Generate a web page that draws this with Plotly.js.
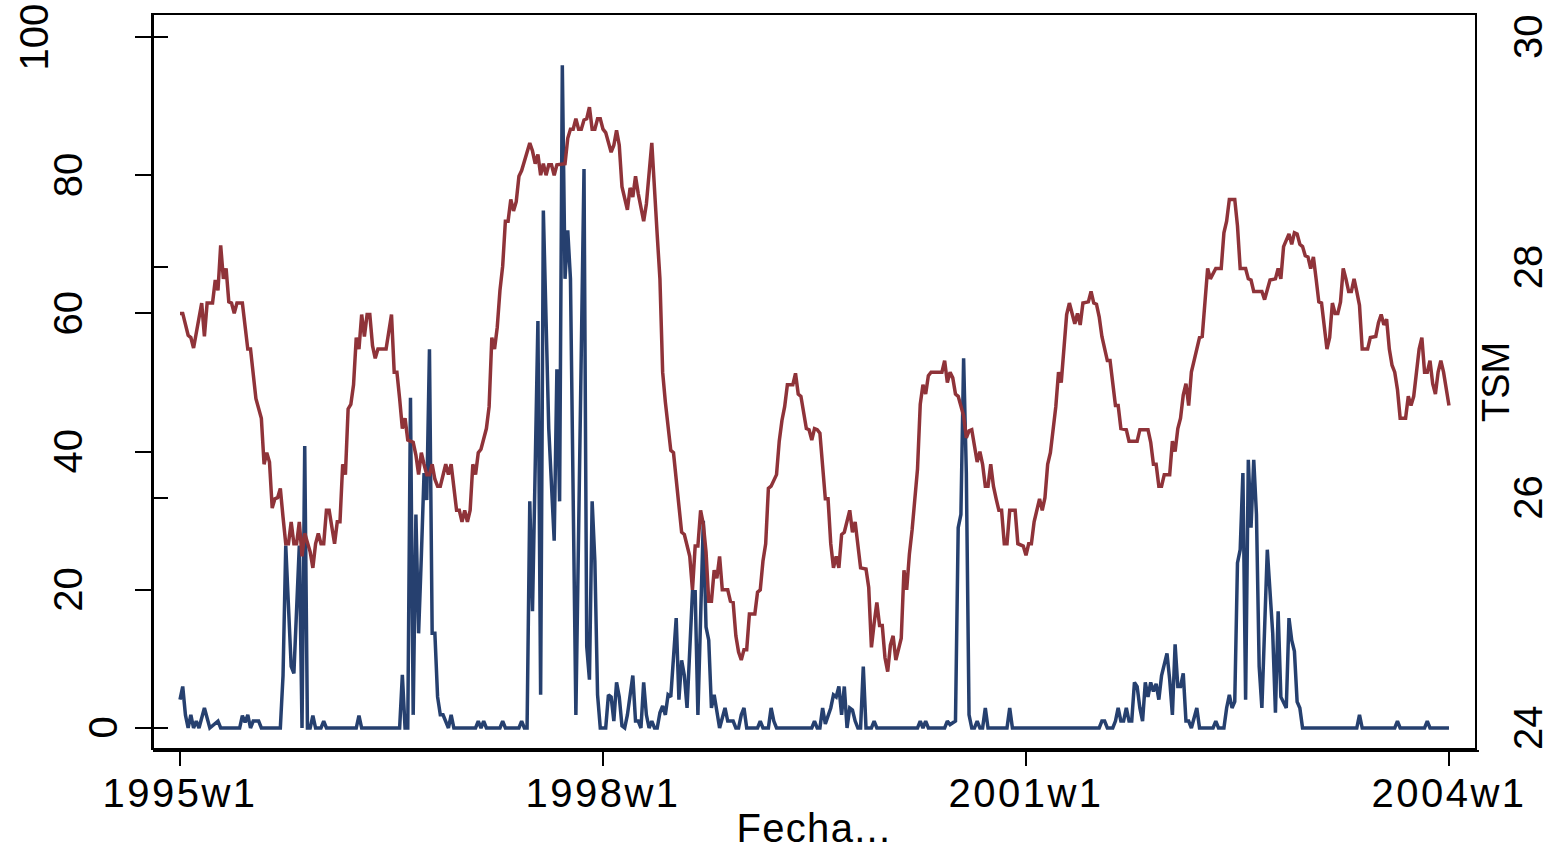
<!DOCTYPE html>
<html>
<head>
<meta charset="utf-8">
<script src="https://cdn.plot.ly/plotly-3.0.1.min.js"></script>
<style>
html,body{margin:0;padding:0;background:#fff;}
#chart{width:1549px;height:850px;}
</style>
</head>
<body>
<div id="chart"></div>
<script>
// Week index: 0 = 1995w1, 156 = 1998w1, 312 = 2001w1, 468 = 2004w1
const xTickVals = [0, 156, 312, 468];
const xTickText = ['1995w1', '1998w1', '2001w1', '2004w1'];
const yTicks = [0, 20, 40, 60, 80, 100];
const y2Ticks = [24, 26, 28, 30];

// TSM series (right axis)
const semanasTSM = [0,1,3,4,5,6,8,9,10,12,13,14,15,16,17,18,19,20,21,23,24,25,26,27,28,30,31,32,33,34,35,36,37,38,39,40,41,42,43,44,45,46,48,49,50,51,52,53,54,55,56,57,58,59,60,61,62,63,64,65,66,67,68,69,70,71,72,73,76,78,79,80,81,82,83,84,86,87,88,89,90,91,92,93,94,95,96,98,99,100,102,103,104,105,106,107,108,109,110,111,113,114,115,116,117,118,119,120,121,122,123,124,125,126,129,130,131,132,133,134,135,136,137,138,139,141,142,143,144,145,146,147,148,149,150,151,152,153,154,155,156,157,159,160,161,162,163,165,166,167,168,169,171,172,174,176,177,178,179,181,182,183,185,186,188,189,190,191,192,193,194,195,196,197,198,199,200,202,203,204,205,206,207,208,209,210,212,213,214,215,216,217,218,220,221,222,223,224,226,227,228,229,231,232,233,234,235,236,237,238,239,240,241,242,243,244,245,247,248,249,251,253,254,255,256,257,258,259,260,261,262,263,264,266,267,268,269,270,272,273,274,275,276,277,281,282,283,284,285,286,287,289,290,291,292,294,295,296,297,298,299,300,301,302,303,304,305,306,308,309,311,312,313,314,315,316,317,318,319,320,321,323,324,325,326,327,328,330,331,332,333,335,336,337,338,339,340,341,342,343,345,346,347,349,350,353,354,357,358,359,360,361,362,363,365,366,367,368,369,370,371,372,373,374,375,376,377,378,379,380,382,384,385,386,387,389,390,391,393,394,395,396,399,400,402,404,405,406,407,409,410,411,412,413,414,415,416,417,418,419,420,421,423,424,425,426,427,428,429,430,431,432,433,434,435,436,438,439,441,442,443,444,445,446,447,448,449,450,452,453,454,455,456,457,458,459,460,461,462,463,464,465,466,467,468];
const tsm = [27.60,27.60,27.41,27.39,27.30,27.44,27.69,27.40,27.69,27.69,27.89,27.80,28.19,27.90,27.99,27.70,27.69,27.60,27.69,27.69,27.48,27.29,27.29,27.06,26.86,26.69,26.29,26.39,26.31,25.91,25.99,26.00,26.08,25.83,25.60,25.60,25.79,25.60,25.60,25.79,25.49,25.69,25.53,25.39,25.60,25.69,25.60,25.60,25.89,25.89,25.75,25.60,25.79,25.79,26.29,26.20,26.77,26.81,26.98,27.39,27.29,27.59,27.40,27.59,27.59,27.32,27.21,27.29,27.29,27.59,27.09,27.09,26.86,26.60,26.69,26.50,26.48,26.37,26.20,26.39,26.29,26.20,26.20,26.29,26.16,26.10,26.10,26.29,26.20,26.29,25.89,25.89,25.79,25.89,25.79,25.89,26.29,26.20,26.39,26.42,26.60,26.79,27.39,27.29,27.48,27.80,28.01,28.40,28.40,28.59,28.49,28.57,28.79,28.84,29.08,29.01,28.90,28.98,28.80,28.90,28.80,28.89,28.89,28.80,28.89,28.90,28.90,29.12,29.20,29.20,29.29,29.20,29.20,29.28,29.29,29.39,29.20,29.20,29.29,29.29,29.20,29.17,29.00,29.06,29.19,29.06,28.70,28.50,28.69,28.61,28.79,28.64,28.40,28.55,29.08,28.28,27.90,27.09,26.83,26.41,26.39,26.16,25.70,25.68,25.49,25.20,25.58,25.58,25.89,25.77,25.53,25.10,25.10,25.37,25.30,25.49,25.20,25.20,25.10,25.09,24.80,24.66,24.59,24.68,24.68,24.99,24.99,25.18,25.20,25.45,25.60,26.08,26.10,26.20,26.49,26.67,26.79,26.98,26.98,27.08,26.90,26.88,26.60,26.59,26.50,26.60,26.59,26.56,26.30,25.99,25.99,25.60,25.39,25.49,25.39,25.68,25.70,25.89,25.70,25.79,25.39,25.38,25.22,24.70,24.91,25.09,24.89,24.89,24.61,24.49,24.72,24.80,24.59,24.78,25.37,25.20,25.51,25.72,26.25,26.81,26.98,26.90,27.06,27.09,27.09,27.19,27.00,27.09,27.04,26.90,26.88,26.71,26.52,26.58,26.59,26.31,26.40,26.29,26.10,26.10,26.29,26.10,25.99,25.89,25.89,25.60,25.60,25.89,25.89,25.60,25.58,25.50,25.60,25.60,25.79,25.89,25.99,25.89,26.00,26.29,26.39,26.79,27.09,27.00,27.29,27.59,27.69,27.51,27.60,27.50,27.69,27.70,27.79,27.69,27.68,27.57,27.40,27.29,27.19,27.19,26.80,26.80,26.60,26.59,26.49,26.49,26.59,26.59,26.48,26.29,26.29,26.10,26.10,26.20,26.20,26.49,26.40,26.60,26.69,26.89,26.99,26.80,27.09,27.19,27.29,27.39,27.40,27.69,27.99,27.90,27.99,27.99,28.30,28.40,28.59,28.59,28.36,27.99,27.99,27.90,27.89,27.79,27.79,27.72,27.89,27.90,27.99,27.90,28.18,28.29,28.20,28.30,28.29,28.20,28.18,28.10,28.09,27.99,28.09,27.90,27.70,27.69,27.29,27.39,27.69,27.60,27.60,27.70,27.99,27.90,27.79,27.79,27.90,27.79,27.67,27.29,27.29,27.39,27.40,27.52,27.59,27.50,27.55,27.29,27.15,27.09,26.94,26.69,26.69,26.88,26.80,26.88,27.09,27.29,27.39,27.09,27.09,27.19,26.99,26.90,27.09,27.19,27.09,26.94,26.80];

// Count series (left axis)
const semanasCasos = [0,1,2,3,4,5,6,7,9,11,14,15,22,23,24,25,26,27,29,30,37,38,39,40,41,42,44,45,46,47,48,49,50,52,53,54,65,66,67,81,82,83,84,85,86,87,88,89,90,91,92,93,94,95,96,97,98,99,100,101,109,110,111,112,113,118,119,120,125,126,127,128,129,130,132,133,134,135,136,138,139,140,141,142,143,144,146,149,150,151,152,153,154,155,157,158,159,160,161,162,163,164,165,167,168,169,170,171,172,173,174,175,176,177,178,179,180,181,183,184,185,186,187,189,190,191,193,194,195,196,197,199,201,202,204,205,206,207,208,209,213,214,215,217,218,219,220,233,234,235,236,237,238,240,241,242,243,244,245,246,247,248,249,250,251,252,253,255,256,257,272,273,274,275,276,282,283,284,286,287,288,289,290,291,292,293,294,295,296,297,298,305,306,307,339,340,341,342,344,345,346,347,348,349,350,351,352,353,354,355,356,357,358,359,360,361,362,364,365,366,367,368,369,370,371,372,373,375,376,381,382,383,385,386,387,388,389,390,391,392,393,394,395,396,397,398,399,401,403,404,405,406,408,409,410,411,412,413,414,434,435,436,448,449,450,459,460,461,468];
const casos = [4.1,6.0,1.9,0,1.9,0,1.0,0,2.9,0,1.0,0,0,1.8,0.8,1.9,0,1.0,1.0,0,0,7.6,26.4,17.2,8.9,7.9,26.4,0,40.8,0,0,1.8,0,0,1.0,0,0,1.8,0,0,7.7,0,0,47.8,1.9,30.9,13.7,24.8,36.9,33.0,54.8,13.7,13.7,4.5,1.9,1.9,1.0,0,1.9,0,0,1.0,0,1.0,0,0,1.0,0,0,1.0,0,0,32.8,16.9,58.9,4.8,74.9,60.5,43.3,27.1,51.9,32.8,95.9,65.0,72.0,65.0,1.9,80.9,11.8,7.0,32.8,24.2,4.8,0,0,4.8,4.5,1.0,6.6,4.5,0.3,0,1.9,7.6,1.0,1.0,0,6.6,1.9,0,1.0,0,0,2.2,3.2,1.9,4.8,4.5,15.9,4.1,9.8,7.6,2.9,19.7,19.7,1.9,30.0,14.6,12.7,2.9,4.8,0,2.9,1.0,1.0,0,0,1.9,2.9,0,0,1.0,0,0,2.9,1.0,0,0,1.0,0,0,2.9,0.6,2.9,4.8,4.5,6.0,1.9,6.0,0,2.9,2.6,1.0,0,0,8.9,0,0,1.0,0,0,1.0,0,1.0,0,0,1.0,0.5,1.0,29.0,30.9,53.5,36.9,1.9,0,0,1.0,0,0,2.9,0,0,2.9,0,0,1.0,1.0,0,0,1.0,2.9,1.0,1.0,2.9,1.0,1.0,6.6,6.0,2.9,1.0,6.6,4.5,6.6,5.3,6.4,4.1,7.6,10.8,7.0,1.9,12.1,6.0,6.0,7.9,1.0,1.0,0,2.9,0,0,1.0,0,0,2.9,4.8,2.9,3.8,23.9,25.8,36.9,4.1,38.8,29.0,38.8,30.9,8.9,2.9,25.8,13.7,2.2,16.9,4.5,2.9,15.9,12.7,11.1,3.8,2.9,0,0,1.9,0,0,1.0,0,0,1.0,0,0];

const FONT = 'Liberation Sans, Arial, Helvetica, sans-serif';
const PLOT_L = 153, PLOT_W = 1322;
function paperX(px){ return (px - PLOT_L) / PLOT_W; }

const traces = [
  {x: semanasCasos, y: casos, type: 'scatter', mode: 'lines', name: 'casos',
   line: {color: '#26406f', width: 3.5}, yaxis: 'y'},
  {x: semanasTSM, y: tsm, type: 'scatter', mode: 'lines', name: 'TSM',
   line: {color: '#8f3339', width: 3.5}, yaxis: 'y2'}
];

const annotations = [];
yTicks.forEach(v => {
  const s = String(v);
  annotations.push({xref: 'paper', yref: 'y', x: paperX(68 - 34.5 * (s.length - 2)), y: v,
    text: s, textangle: -90, showarrow: false, xanchor: 'center', yanchor: 'middle',
    font: {family: FONT, size: 40, color: '#000'}});
});
y2Ticks.forEach(v => {
  annotations.push({xref: 'paper', yref: 'y2', x: paperX(1528), y: v,
    text: String(v), textangle: -90, showarrow: false, xanchor: 'center', yanchor: 'middle',
    font: {family: FONT, size: 40, color: '#000'}});
});
annotations.push({xref: 'paper', yref: 'paper', x: paperX(1496), y: (748 - 382) / 733,
  text: 'TSM', textangle: -90, showarrow: false, xanchor: 'center', yanchor: 'middle',
  font: {family: FONT, size: 38, color: '#000'}});

const layout = {
  width: 1549, height: 850,
  margin: {l: 153, r: 74, t: 15, b: 102, pad: 0},
  paper_bgcolor: '#ffffff', plot_bgcolor: '#ffffff',
  showlegend: false,
  xaxis: {
    range: [-9.96, 477.6], tickvals: xTickVals, ticktext: xTickText,
    ticks: 'outside', ticklen: 16, tickwidth: 2, tickcolor: '#000',
    showline: true, mirror: true, linecolor: '#000', linewidth: 2,
    showgrid: false, zeroline: false, ticklabelstandoff: -7,
    tickfont: {family: FONT, size: 40, color: '#000'},
    title: {text: 'Fecha...', standoff: 12, font: {family: FONT, size: 40, color: '#000'}}
  },
  yaxis: {
    range: [-2.894, 103.18], tickvals: yTicks, showticklabels: false,
    ticks: 'outside', ticklen: 16, tickwidth: 2, tickcolor: '#000',
    showline: true, mirror: true, linecolor: '#000', linewidth: 2,
    showgrid: false, zeroline: false
  },
  yaxis2: {
    range: [23.8263, 30.191], tickvals: y2Ticks, showticklabels: false,
    overlaying: 'y', side: 'right', anchor: 'free', position: 1.003,
    ticks: 'outside', ticklen: 14, tickwidth: 2, tickcolor: '#000',
    showline: true, linecolor: '#000', linewidth: 2,
    showgrid: false, zeroline: false
  },
  shapes: [
    {type: 'line', xref: 'paper', yref: 'paper', x0: 0, x1: 1.003, y0: -0.004, y1: -0.004,
     line: {color: '#000', width: 2}}
  ],
  annotations: annotations
};

Plotly.newPlot('chart', traces, layout, {displayModeBar: false, staticPlot: true}).then(gd => {
  // the reference text is drawn a little wider than the installed font
  gd.querySelectorAll('.xtick text').forEach(t => t.setAttribute('letter-spacing', '2.5px'));
  gd.querySelectorAll('.g-xtitle text').forEach(t => t.setAttribute('letter-spacing', '1.3px'));
});
</script>
</body>
</html>
